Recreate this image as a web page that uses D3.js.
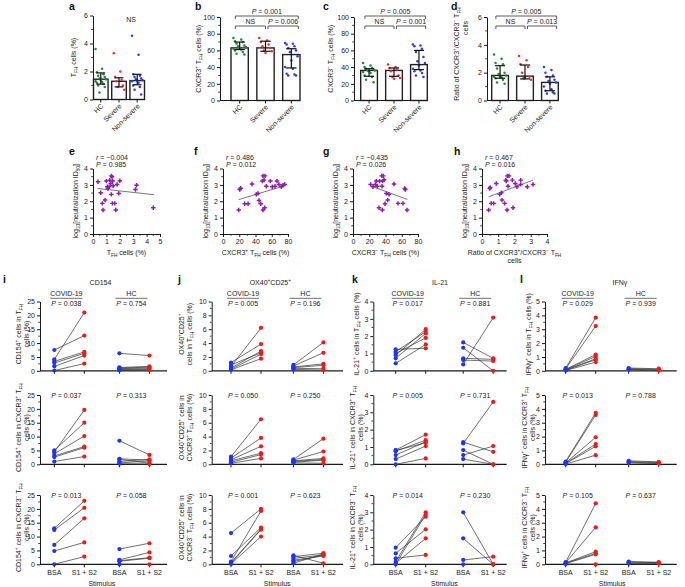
<!DOCTYPE html>
<html><head><meta charset="utf-8">
<script src="https://cdn.jsdelivr.net/npm/d3@7"></script>
<style>body{margin:0;background:#fff}</style>
</head><body><script>
// ================= DATA =================
const barCategories = ["HC", "Severe", "Non-severe"];
// a: TFH cells (%)
const tfhHC = [3.6, 2.2, 1.95, 1.8, 1.7, 1.6, 1.5, 1.45, 1.4, 1.3, 1.25, 1.2, 1.1, 1.0, 0.9, 0.5];
const tfhSevere = [3.3, 2.0, 1.6, 1.4, 1.3, 1.0, 0.9, 0.7];
const tfhNonSevere = [4.55, 3.2, 1.8, 1.7, 1.6, 1.5, 1.45, 1.4, 1.35, 1.3, 1.2, 1.0, 0.9, 0.7, 0.35];
const tfhBar = [1.45, 1.3, 1.35], tfhLow = [1.1, 0.9, 1.05], tfhHigh = [1.9, 1.55, 1.8];
// b: CXCR3+ TFH cells (%)
const posHC = [75, 73, 71, 70, 68, 66, 65, 64, 63, 62, 61, 60, 58, 56, 55];
const posSevere = [75, 72, 70, 67, 65, 63, 60, 59, 57];
const posNonSevere = [69, 68, 67, 65, 63, 60, 58, 53, 48, 40, 38, 32, 31, 30, 30];
const posBar = [63, 63, 55], posLow = [61, 59, 39], posHigh = [70, 71, 62];
// c: CXCR3- TFH cells (%)
const negHC = [45, 42, 40, 39, 38, 37, 36, 36, 35, 34, 33, 30, 28, 25, 22];
const negSevere = [43, 40, 39, 37, 35, 30, 28, 27, 26];
const negNonSevere = [67, 66, 65, 62, 58, 52, 47, 45, 42, 38, 36, 35, 33, 30, 28];
const negBar = [36, 36, 43], negLow = [29, 29, 37], negHigh = [38, 39, 60];
// d: ratio CXCR3+/CXCR3-
const ratioHC = [3.3, 3.0, 2.7, 2.6, 2.3, 2.0, 1.9, 1.8, 1.75, 1.7, 1.65, 1.6, 1.5, 1.3, 1.2];
const ratioSevere = [3.2, 2.9, 2.6, 2.4, 2.0, 1.7, 1.6, 1.5, 1.6];
const ratioNonSevere = [2.4, 2.2, 2.0, 1.8, 1.7, 1.5, 1.4, 1.3, 1.2, 1.0, 0.8, 0.7, 0.6, 0.5, 0.5];
const ratioBar = [1.8, 1.75, 1.3], ratioLow = [1.6, 1.55, 0.7], ratioHigh = [2.5, 2.55, 1.7];
const barPValues = { b: ["0.001", "NS", "0.006"], c: ["0.005", "NS", "0.001"], d: ["0.005", "NS", "0.013"] };

// e-h: log10 neutralization ID50 vs cell frequency
const neutVsTfh = [[0.375,3.19],[0.575,2.52],[0.7,1.87],[0.75,1.46],[0.9,2.07],[1.0,3.23],[1.07,2.88],[1.12,2.78],[1.2,2.88],[1.25,3.29],[1.32,3.09],[1.37,3.55],[1.42,3.49],[1.37,2.42],[1.45,1.87],[1.47,3.23],[1.5,2.94],[1.62,1.87],[1.7,1.46],[1.8,3.03],[1.92,2.48],[2.0,3.25],[3.17,2.72],[3.25,2.98],[4.5,1.6]];
const neutVsPos = [[19.3,1.46],[20.5,2.72],[21.7,2.8],[26.7,1.85],[30.8,1.85],[35.7,3.05],[41,2.42],[43.1,2.48],[44.3,2.05],[46.4,1.85],[49.2,1.46],[51.3,1.6],[49.2,3.55],[51.7,3.55],[48.4,3.23],[50.5,3.29],[53.3,2.92],[58.3,3.23],[60.7,2.88],[64,2.92],[66.5,3.23],[68.9,3.03],[71.8,2.88],[73.8,2.98],[75.9,3.03]];
const neutVsNeg = [[21.7,3.03],[24.6,2.88],[27.5,3.03],[28.7,3.23],[29.9,2.92],[32.8,3.23],[32,1.6],[35.3,3.55],[35.7,2.92],[36.5,3.23],[37.3,3.55],[38.2,3.31],[36.1,1.46],[39.4,1.85],[41,2.48],[42.7,2.07],[44.3,2.42],[50.5,3.05],[55.4,1.87],[61.5,1.87],[63.6,2.78],[64.4,2.72],[66.5,1.46]];
const neutVsRatio = [[0.41,1.46],[0.47,2.78],[0.51,2.84],[0.57,1.87],[0.72,1.87],[0.88,3.09],[1.09,2.42],[1.19,2.52],[1.23,2.07],[1.39,1.87],[1.46,3.29],[1.5,3.23],[1.56,3.55],[1.66,3.55],[1.54,1.46],[1.6,2.92],[1.87,3.29],[1.91,1.6],[2.05,3.09],[2.15,2.88],[2.38,3.29],[2.38,3.03],[2.79,2.88],[3.14,3.03]];
const fitTfh = [[0.33, 2.78], [4.55, 2.4]];
const fitPos = [[19.3, 2.1], [75.9, 2.95]];
const fitNeg = [[22.6, 2.92], [66.9, 2.11]];
const fitRatio = [[0.41, 2.27], [3.14, 3.29]];
const corrStats = { e: ["−0.004", "0.985"], f: ["0.486", "0.012"], g: ["−0.435", "0.026"], h: ["0.467", "0.016"] };

// i-l: paired [BSA, S1 + S2]
const cd154TfhCovid = [[4.1,21],[7.5,12.7],[3.4,6.8],[2.8,6.3],[1.6,5.5],[0.1,2.6]];
const cd154TfhHC = [[6.3,5.5],[1.2,1.6],[1.0,1.3],[0.8,1.0],[0.5,0.7],[0.3,0.4],[0.2,0.2]];
const cd154PosCovid = [[4.5,19.6],[5,15],[3.8,10.2],[3,6.4],[2.6,6.0],[1,2.8]];
const cd154PosHC = [[8.5,3.4],[2.0,1.5],[1.8,0.4],[1.0,1.8],[0.5,1.2],[0.2,0.1]];
const cd154NegCovid = [[13,22.9],[12.4,20.4],[7,16.6],[4.8,7.9],[0,2.8]];
const cd154NegHC = [[5.5,7.6],[1.6,4.3],[1.3,2.4],[1.1,2.2],[0,0]];

const ox40TfhCovid = [[0.6,6.2],[1.2,3.85],[0.4,2.85],[0.85,2.6],[0.25,2.4],[0.15,1.75]];
const ox40TfhHC = [[0.85,4.1],[0.7,2.6],[0.55,1.0],[0.45,0.8],[0.35,0.3],[0.2,0.1]];
const ox40PosCovid = [[1.1,6.5],[0.9,3.8],[0.65,2.6],[0.5,1.6],[0.3,1.4],[0.15,0.85]];
const ox40PosHC = [[0.7,3.7],[0.6,1.85],[0.5,0.85],[0.4,0.7],[0.3,0.6],[0.2,0.15]];
const ox40NegCovid = [[4.5,8.0],[1.2,5.3],[0.4,7.7],[0.25,5.1],[0.15,5.0],[0.05,4.0]];
const ox40NegHC = [[1.3,0.15],[1.1,1.6],[0.85,1.35],[0.6,1.2],[0.4,1.3],[0.15,1.5]];

const il21TfhCovid = [[1.24,1.3],[1.1,2.26],[0.9,2.4],[0.72,2.16],[0.43,1.52],[1.0,1.9]];
const il21TfhHC = [[0.37,3.07],[1.64,0.72],[1.33,0],[0.72,0.66],[0.62,0.56]];
const il21PosCovid = [[0.82,1.71],[0.76,1.39],[0.53,1.3],[0.8,1.24],[0.3,1.05],[0,0.34]];
const il21PosHC = [[1.2,3.6],[1.28,0.72],[0.82,0],[0.53,1.05],[0.3,0]];
const il21NegCovid = [[0.96,2.75],[0.63,2.02],[0.35,0.54],[0.15,3.0],[0.06,1.5],[0,2.88]];
const il21NegHC = [[3.0,0],[1.5,0],[0.25,0.44],[0,0]];

const ifngTfhCovid = [[0.2,3.83],[0.15,3.23],[0.1,1.17],[0.08,1.04],[0.05,0.87],[0.05,0.8],[0.02,0.63]];
const ifngTfhHC = [[0.2,0.15],[0.15,0.1],[0.12,0.05],[0.1,0.02]];
const ifngPosCovid = [[0.2,3.72],[0.15,3.56],[0.1,1.95],[0.08,1.46],[0.05,1.3],[0.02,0.66]];
const ifngPosHC = [[0.25,0.18],[0.2,0.12],[0.15,0.08],[0.1,0.05]];
const ifngNegCovid = [[0.15,4.4],[0.12,2.67],[0.1,0.91],[0.08,0.79],[0.05,0.72],[0.02,0]];
const ifngNegHC = [[0.2,0.15],[0.15,0.12],[0.1,0.1],[0.05,0.05]];

const pairedP = {
  i: [["0.038","0.754"],["0.037","0.313"],["0.013","0.058"]],
  j: [["0.005","0.196"],["0.050","0.250"],["0.001","0.623"]],
  k: [["0.017","0.881"],["0.005","0.731"],["0.014","0.230"]],
  l: [["0.029","0.939"],["0.013","0.788"],["0.105","0.637"]]
};
const stimulusLabels = ["BSA", "S1 + S2", "BSA", "S1 + S2"];

// ================= DRAWING =================
const FONT = "'Liberation Sans', Arial, Helvetica, sans-serif";
const FS = 7;
const fmt = d3.format("~g");
const svg = d3.select("body").append("svg").attr("width", 685).attr("height", 587)
  .style("font-family", FONT);

function rich(t, parts, fs) {
  let shift = 0;
  for (const p of parts) {
    const [txt, k] = Array.isArray(p) ? p : [p, "n"];
    const target = k === "sub" ? fs * 0.3 : k === "sup" ? -fs * 0.4 : 0;
    const ts = t.append("tspan").attr("dy", (target - shift).toFixed(2)).text(txt);
    if (k === "sub" || k === "sup") ts.attr("font-size", (fs * 0.68).toFixed(2));
    if (k === "i") ts.attr("font-style", "italic");
    shift = target;
  }
}
function addText(x, y, parts, opt = {}) {
  const size = opt.size || FS;
  const t = svg.append("text")
    .attr("transform", `translate(${x},${y}) rotate(${opt.rotate || 0})`)
    .attr("text-anchor", opt.anchor || "middle")
    .attr("font-size", size).attr("fill", "#1a1a1a");
  if (opt.weight) t.attr("font-weight", opt.weight);
  rich(t, typeof parts === "string" ? [parts] : parts, size);
  return t;
}
function letter(x, y, s) {
  svg.append("text").attr("x", x).attr("y", y).attr("font-size", 10.5)
    .attr("font-weight", "bold").attr("fill", "#111").text(s);
}
function styleAxis(sel) {
  sel.attr("font-family", FONT).attr("font-size", FS);
  sel.select(".domain").attr("stroke", "#1a1a1a").attr("stroke-width", 1);
  sel.selectAll(".tick line").attr("stroke", "#1a1a1a");
  sel.selectAll(".tick text").attr("fill", "#1a1a1a");
}
function minorTicksY(x0, y, vals) {
  svg.append("g").selectAll("line").data(vals).join("line")
    .attr("x1", x0 - 1.8).attr("x2", x0).attr("y1", d => y(d)).attr("y2", d => y(d))
    .attr("stroke", "#1a1a1a").attr("stroke-width", 0.8);
}
function minorTicksX(y0, x, vals) {
  svg.append("g").selectAll("line").data(vals).join("line")
    .attr("y1", y0).attr("y2", y0 + 1.8).attr("x1", d => x(d)).attr("x2", d => x(d))
    .attr("stroke", "#1a1a1a").attr("stroke-width", 0.8);
}

const T_FH = ["T", ["FH", "sub"]];
const P_ = [["P", "i"]];

// ---------- bar panels ----------
const groupColors = ["#1e8a36", "#e8332d", "#2c3de4"];
function barPanel(o) {
  const y = d3.scaleLinear().domain(o.domain).range([o.yb, o.yt]);
  const x = d3.scaleBand().domain(barCategories).range([o.b0, o.b1r]).paddingInner(o.pi).paddingOuter(0);
  const bw = x.bandwidth();
  const cx = c => x(c) + bw / 2;
  const g = svg.append("g");
  g.selectAll("rect").data(barCategories).join("rect")
    .attr("x", d => x(d)).attr("width", bw)
    .attr("y", (d, i) => y(o.bar[i])).attr("height", (d, i) => y(0) - y(o.bar[i]))
    .attr("fill", "#fff").attr("stroke", "#222").attr("stroke-width", 1.4);
  o.points.forEach((arr, ci) => {
    g.append("g").selectAll("circle").data(arr).join("circle")
      .attr("cx", (d, i) => cx(barCategories[ci]) + ((((i * 5) % 9) - 4) / 4) * bw * 0.36)
      .attr("cy", d => y(d)).attr("r", 1.25).attr("fill", groupColors[ci]);
  });
  barCategories.forEach((c, i) => {
    const xm = cx(c), cw = bw * 0.3;
    const eg = g.append("g").attr("stroke", "#111").attr("stroke-width", 1.2);
    eg.append("line").attr("x1", xm).attr("x2", xm).attr("y1", y(o.lo[i])).attr("y2", y(o.hi[i]));
    [o.lo[i], o.hi[i]].forEach(v => eg.append("line").attr("x1", xm - cw).attr("x2", xm + cw).attr("y1", y(v)).attr("y2", y(v)));
  });
  const ya = svg.append("g").attr("transform", `translate(${o.x0},0)`)
    .call(d3.axisLeft(y).tickValues(o.ticks).tickFormat(fmt).tickSize(3).tickSizeOuter(0).tickPadding(2));
  styleAxis(ya);
  minorTicksY(o.x0, y, o.minor);
  svg.append("line").attr("x1", o.x0).attr("x2", o.b1r).attr("y1", o.yb).attr("y2", o.yb)
    .attr("stroke", "#1a1a1a").attr("stroke-width", 1);
  barCategories.forEach(c => {
    svg.append("line").attr("x1", cx(c)).attr("x2", cx(c)).attr("y1", o.yb).attr("y2", o.yb + 3).attr("stroke", "#1a1a1a");
    addText(cx(c) + 3, o.yb + 7, c, { anchor: "end", rotate: -45 });
  });
  o.ylabel.forEach((parts, li) => addText(o.ylx + li * 9, o.ylY ? o.ylY[li] : (o.yt + o.yb) / 2, parts, { rotate: -90 }));
  if (o.ns) addText(o.nsX, o.nsY, "NS");
  if (o.pv) {
    const [p1, p2, p3] = o.pv;
    const lx = x(barCategories[0]) + bw * 0.25, rx = x(barCategories[2]) + bw * 0.9;
    const mx = cx(barCategories[1]);
    const br = (a, b, yy) => {
      g.append("path").attr("d", `M${a},${yy + 3}V${yy}H${b}V${yy + 3}`)
        .attr("fill", "none").attr("stroke", "#333").attr("stroke-width", 0.8);
    };
    br(lx, rx, o.bk1); br(lx, mx, o.bk2); br(mx + 2.5, rx, o.bk2);
    const lab = v => v === "NS" ? ["NS"] : [...P_, " = " + v];
    addText((lx + rx) / 2, o.bk1 - 2, lab(p1));
    addText((lx + mx) / 2, o.bk2 - 2, lab(p2));
    addText((mx + 2.5 + rx) / 2, o.bk2 - 2, lab(p3));
  }
}

letter(69, 10, "a"); letter(195, 10, "b"); letter(323, 10, "c"); letter(451, 10, "d");
barPanel({ x0: 93, b0: 93.5, b1r: 144.5, yt: 15.5, yb: 99.5, domain: [0, 6], ticks: [0, 2, 4, 6], minor: [1, 3, 5],
  pi: 0.2, bar: tfhBar, lo: tfhLow, hi: tfhHigh, points: [tfhHC, tfhSevere, tfhNonSevere],
  ylabel: [[...T_FH, " cells (%)"]], ylx: 76, ns: true, nsX: 131, nsY: 22 });
barPanel({ x0: 220, b0: 231, b1r: 300, yt: 17, yb: 100.5, domain: [0, 100], ticks: [0, 20, 40, 60, 80, 100], minor: [10, 30, 50, 70, 90],
  pi: 0.33, bar: posBar, lo: posLow, hi: posHigh, points: [posHC, posSevere, posNonSevere],
  ylabel: [["CXCR3", ["+", "sup"], " ", ...T_FH, " cells (%)"]], ylx: 201,
  pv: barPValues.b, bk1: 16, bk2: 26 });
barPanel({ x0: 354, b0: 360.7, b1r: 427.3, yt: 17, yb: 100.5, domain: [0, 100], ticks: [0, 20, 40, 60, 80, 100], minor: [10, 30, 50, 70, 90],
  pi: 0.33, bar: negBar, lo: negLow, hi: negHigh, points: [negHC, negSevere, negNonSevere],
  ylabel: [["CXCR3", ["−", "sup"], " ", ...T_FH, " cells (%)"]], ylx: 333,
  pv: barPValues.c, bk1: 16, bk2: 26 });
barPanel({ x0: 487, b0: 491.7, b1r: 558.3, yt: 17, yb: 100.5, domain: [0, 6], ticks: [0, 2, 4, 6], minor: [1, 3, 5],
  pi: 0.33, bar: ratioBar, lo: ratioLow, hi: ratioHigh, points: [ratioHC, ratioSevere, ratioNonSevere],
  ylabel: [["Ratio of CXCR3", ["+", "sup"], "/CXCR3", ["−", "sup"], " ", ...T_FH], ["cells"]], ylx: 459, ylY: [54, 28],
  pv: barPValues.d, bk1: 16, bk2: 26 });

// ---------- scatter panels ----------
function scatterPanel(o) {
  const x = d3.scaleLinear().domain(o.xd).range([o.x0, o.x1]);
  const y = d3.scaleLinear().domain([0, 4]).range([o.yb, o.yt]);
  const xa = svg.append("g").attr("transform", `translate(0,${o.yb})`)
    .call(d3.axisBottom(x).tickValues(o.xt).tickFormat(fmt).tickSize(3).tickSizeOuter(0).tickPadding(2));
  styleAxis(xa);
  minorTicksX(o.yb, x, o.xm);
  const ya = svg.append("g").attr("transform", `translate(${o.x0},0)`)
    .call(d3.axisLeft(y).tickValues([0, 1, 2, 3, 4]).tickFormat(fmt).tickSize(3).tickSizeOuter(0).tickPadding(2));
  styleAxis(ya);
  minorTicksY(o.x0, y, [0.5, 1.5, 2.5, 3.5]);
  svg.append("line").attr("x1", x(o.fit[0][0])).attr("y1", y(o.fit[0][1]))
    .attr("x2", x(o.fit[1][0])).attr("y2", y(o.fit[1][1])).attr("stroke", "#555").attr("stroke-width", 0.8);
  svg.append("g").selectAll("path").data(o.data).join("path")
    .attr("d", d3.symbol(d3.symbolCross, 11))
    .attr("transform", d => `translate(${x(d[0])},${y(d[1])})`).attr("fill", "#8a1fa8");
  addText(o.x0 + 3, o.yt - 9, [["r", "i"], " = " + o.stats[0]], { anchor: "start" });
  addText(o.x0 + 3, o.yt - 1.5, [...P_, " = " + o.stats[1]], { anchor: "start" });
  addText(o.x0 - 15, (o.yt + o.yb) / 2, ["log", ["10", "sub"], "[neutralization ID", ["50", "sub"], "]"], { rotate: -90 });
  o.xlabel.forEach((parts, li) => addText((o.x0 + o.x1) / 2, o.yb + 21 + li * 8, parts));
}
letter(69, 155, "e"); letter(194, 155, "f"); letter(323, 155, "g"); letter(454, 155, "h");
scatterPanel({ x0: 93, x1: 160, yt: 168.5, yb: 234, xd: [0, 5], xt: [0, 1, 2, 3, 4, 5], xm: [0.5, 1.5, 2.5, 3.5, 4.5],
  data: neutVsTfh, fit: fitTfh, stats: corrStats.e, xlabel: [[...T_FH, " cells (%)"]] });
scatterPanel({ x0: 223, x1: 288, yt: 168.5, yb: 234, xd: [0, 80], xt: [0, 20, 40, 60, 80], xm: [10, 30, 50, 70],
  data: neutVsPos, fit: fitPos, stats: corrStats.f, xlabel: [["CXCR3", ["+", "sup"], " ", ...T_FH, " cells (%)"]] });
scatterPanel({ x0: 353, x1: 418, yt: 168.5, yb: 234, xd: [0, 80], xt: [0, 20, 40, 60, 80], xm: [10, 30, 50, 70],
  data: neutVsNeg, fit: fitNeg, stats: corrStats.g, xlabel: [["CXCR3", ["−", "sup"], " ", ...T_FH, " cells (%)"]] });
scatterPanel({ x0: 482, x1: 547, yt: 168.5, yb: 234, xd: [0, 4], xt: [0, 1, 2, 3, 4], xm: [0.5, 1.5, 2.5, 3.5],
  data: neutVsRatio, fit: fitRatio, stats: corrStats.h,
  xlabel: [["Ratio of CXCR3", ["+", "sup"], "/CXCR3", ["−", "sup"], " ", ...T_FH], ["cells"]] });

// ---------- paired panels ----------
const subRows = [[301.5, 370.8], [395, 464.3], [495, 564.3]];
function pairedPanel(o) {
  const xs = d3.scaleLinear().domain([0, 1]).range([o.first, o.first + 30]);
  const pos = o.slots.map(s => xs(s));
  letter(o.letterX, 283, o.letter);
  addText((o.axisX + o.endX) / 2 + o.titleDx, 285, o.title);
  o.subs.forEach((s, si) => {
    const [top, bot] = subRows[si];
    const y = d3.scaleLinear().domain(o.domain).range([bot, top]);
    const ya = svg.append("g").attr("transform", `translate(${o.axisX},0)`)
      .call(d3.axisLeft(y).tickValues(o.ticks).tickFormat(fmt).tickSize(3).tickSizeOuter(0).tickPadding(2));
    styleAxis(ya);
    minorTicksY(o.axisX, y, o.minor);
    svg.append("line").attr("x1", o.axisX).attr("x2", o.endX).attr("y1", bot).attr("y2", bot)
      .attr("stroke", "#1a1a1a").attr("stroke-width", 1.2);
    pos.forEach(px => svg.append("line").attr("x1", px).attr("x2", px).attr("y1", bot).attr("y2", bot + 3).attr("stroke", "#1a1a1a"));
    [s.covid, s.hc].forEach((pairs, gi) => {
      const xa = pos[gi * 2], xb = pos[gi * 2 + 1];
      const gg = svg.append("g");
      gg.selectAll("line").data(pairs).join("line")
        .attr("x1", xa).attr("x2", xb).attr("y1", d => y(d[0])).attr("y2", d => y(d[1]))
        .attr("stroke", "#333").attr("stroke-width", 0.7);
      gg.selectAll(".b").data(pairs).join("circle").attr("class", "b")
        .attr("cx", xa).attr("cy", d => y(d[0])).attr("r", 2.1).attr("fill", "#2233ee");
      gg.selectAll(".r").data(pairs).join("circle").attr("class", "r")
        .attr("cx", xb).attr("cy", d => y(d[1])).attr("r", 2.1).attr("fill", "#ee1a1a");
      const gc = (xa + xb) / 2 - 3;
      const pv = [...P_, " = " + o.p[si][gi]];
      if (si === 0) {
        addText(gc, 296.3, gi === 0 ? "COVID-19" : "HC");
        svg.append("line").attr("x1", gc - 16).attr("x2", gc + 16).attr("y1", 298.3).attr("y2", 298.3)
          .attr("stroke", "#333").attr("stroke-width", 0.7);
        addText(gc, 306.3, pv);
      } else {
        addText(gc, top + 2.5, pv);
      }
    });
    s.ylabel.forEach((parts, li) => {
      const n = s.ylabel.length;
      addText(o.ylx + (li - (n - 1) / 2) * 8.5, (top + bot) / 2 - 2, parts, { rotate: -90 });
    });
    if (si === 2) {
      pos.forEach((px, k) => addText(px, bot + 11, stimulusLabels[k]));
      addText((pos[0] + pos[3]) / 2, 586, "Stimulus");
    }
  });
}
const cellsPct = ["cells (%)"];
pairedPanel({ letter: "i", letterX: 3, title: ["CD154"], titleDx: -3, axisX: 40, endX: 167, first: 54.3, slots: [0, 1, 2.17, 3.17],
  domain: [0, 25], ticks: [0, 5, 10, 15, 20, 25], minor: [2.5, 7.5, 12.5, 17.5, 22.5], ylx: 25, p: pairedP.i,
  subs: [
    { covid: cd154TfhCovid, hc: cd154TfhHC, ylabel: [["CD154", ["+", "sup"], " cells in ", ...T_FH], cellsPct] },
    { covid: cd154PosCovid, hc: cd154PosHC, ylabel: [["CD154", ["+", "sup"], " cells in CXCR3", ["+", "sup"], " ", ...T_FH], cellsPct] },
    { covid: cd154NegCovid, hc: cd154NegHC, ylabel: [["CD154", ["+", "sup"], " cells in CXCR3", ["−", "sup"], " ", ...T_FH], cellsPct] }
  ] });
pairedPanel({ letter: "j", letterX: 178, title: ["OX40", ["+", "sup"], "CD25", ["+", "sup"]], titleDx: -7, axisX: 211.7, endX: 343, first: 231, slots: [0, 1, 2.08, 3.08],
  domain: [0, 10], ticks: [0, 2, 4, 6, 8, 10], minor: [1, 3, 5, 7, 9], ylx: 188, p: pairedP.j,
  subs: [
    { covid: ox40TfhCovid, hc: ox40TfhHC, ylabel: [["OX40", ["+", "sup"], "CD25", ["+", "sup"]], ["cells in ", ...T_FH, " cells (%)"]] },
    { covid: ox40PosCovid, hc: ox40PosHC, ylabel: [["OX40", ["+", "sup"], "CD25", ["+", "sup"], " cells in"], ["CXCR3", ["+", "sup"], " ", ...T_FH, " cells (%)"]] },
    { covid: ox40NegCovid, hc: ox40NegHC, ylabel: [["OX40", ["+", "sup"], "CD25", ["+", "sup"], " cells in"], ["CXCR3", ["−", "sup"], " ", ...T_FH, " cells (%)"]] }
  ] });
pairedPanel({ letter: "k", letterX: 352, title: ["IL-21"], titleDx: 0, axisX: 373.3, endX: 506.7, first: 395.7, slots: [0, 1, 2.25, 3.25],
  domain: [0, 4], ticks: [0, 1, 2, 3, 4], minor: [0.5, 1.5, 2.5, 3.5], ylx: 359, p: pairedP.k,
  subs: [
    { covid: il21TfhCovid, hc: il21TfhHC, ylabel: [["IL-21", ["+", "sup"], " cells in ", ...T_FH, " cells (%)"]] },
    { covid: il21PosCovid, hc: il21PosHC, ylabel: [["IL-21", ["+", "sup"], " cells in CXCR3", ["+", "sup"], " ", ...T_FH], cellsPct] },
    { covid: il21NegCovid, hc: il21NegHC, ylabel: [["IL-21", ["+", "sup"], " cells in CXCR3", ["−", "sup"], " ", ...T_FH], cellsPct] }
  ] });
pairedPanel({ letter: "l", letterX: 520, title: ["IFNγ"], titleDx: 9, axisX: 545, endX: 676.7, first: 565.7, slots: [0, 1, 2.1, 3.1],
  domain: [0, 5], ticks: [0, 1, 2, 3, 4, 5], minor: [0.5, 1.5, 2.5, 3.5, 4.5], ylx: 531, p: pairedP.l,
  subs: [
    { covid: ifngTfhCovid, hc: ifngTfhHC, ylabel: [["IFNγ", ["+", "sup"], " cells in ", ...T_FH, " cells (%)"]] },
    { covid: ifngPosCovid, hc: ifngPosHC, ylabel: [["IFNγ", ["+", "sup"], " cells in CXCR3", ["+", "sup"], " ", ...T_FH], cellsPct] },
    { covid: ifngNegCovid, hc: ifngNegHC, ylabel: [["IFNγ", ["+", "sup"], " cells in CXCR3", ["−", "sup"], " ", ...T_FH], cellsPct] }
  ] });
</script></body></html>
